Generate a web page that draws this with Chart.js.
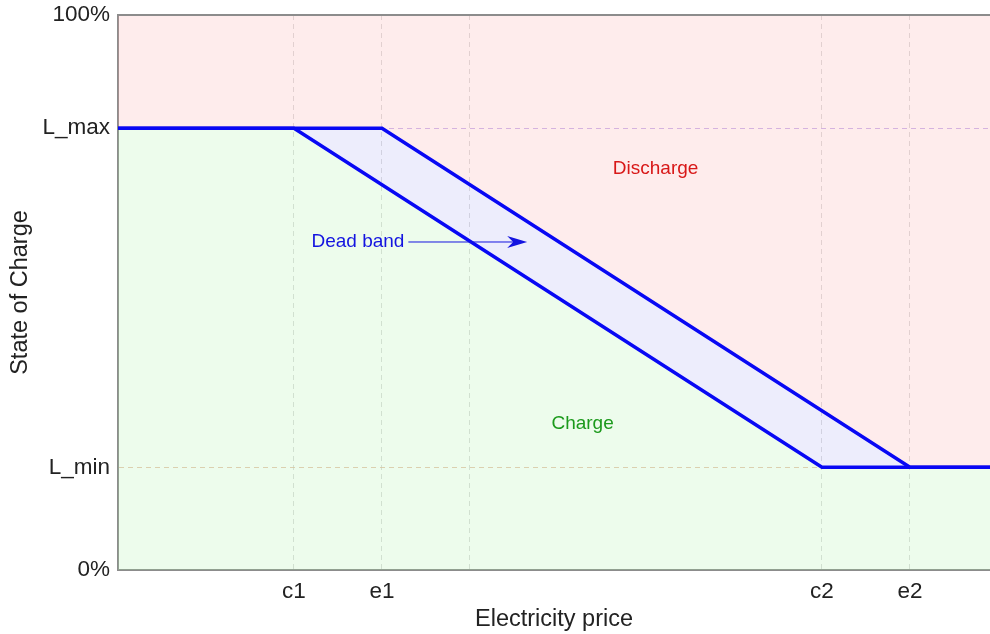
<!DOCTYPE html>
<html>
<head>
<meta charset="utf-8">
<script src="https://cdn.jsdelivr.net/npm/chart.js@4.4.1/dist/chart.umd.min.js"></script>
<style>
    html, body { margin: 0; padding: 0; background: #fff; }
    #wrap { width: 990px; height: 634px; position: relative; }
</style>
</head>
<body>
<div id="wrap"><canvas id="socChart"></canvas></div>
<script>
// Data: price axis in units, SOC in percent
const xTickValues = [2, 3, 4, 8, 9];
const xTickLabels = ['c1', 'e1', '', 'c2', 'e2'];
const yTickValues = [0, 18.5, 79.6, 100];
const yTickLabels = ['0%', 'L_min', 'L_max', '100%'];

const chargeX = [0, 2, 8, 9.91];
const chargeY = [79.6, 79.6, 18.5, 18.5];
const dischargeX = [0, 3, 9, 9.91];
const dischargeY = [79.6, 79.6, 18.5, 18.5];

const FONT = "'Liberation Sans', Arial, sans-serif";
const LINE_BLUE = '#0808f4';

const toPoints = (xs, ys) => xs.map((x, i) => ({ x: x, y: ys[i] }));

// Frame on top + text labels and the dead band arrow
const overlayPlugin = {
    id: 'overlay',
    afterDatasetsDraw(chart) {
        const { ctx, chartArea, scales } = chart;
        const xs = scales.x, ys = scales.y;
        ctx.save();

        // top border
        ctx.strokeStyle = '#8c8c8c';
        ctx.lineWidth = 2;
        ctx.beginPath();
        ctx.moveTo(chartArea.left, chartArea.top);
        ctx.lineTo(chartArea.right, chartArea.top);
        ctx.stroke();

        ctx.textAlign = 'center';
        ctx.textBaseline = 'middle';

        ctx.font = `19px ${FONT}`;
        ctx.fillStyle = '#d81818';
        ctx.fillText('Discharge', xs.getPixelForValue(6.11), ys.getPixelForValue(72.3));

        ctx.fillStyle = '#1c9a1c';
        ctx.fillText('Charge', xs.getPixelForValue(5.28), ys.getPixelForValue(26.3));

        // dead band label + arrow
        const ay = ys.getPixelForValue(59.1);
        ctx.fillStyle = '#1414e0';
        ctx.fillText('Dead band', xs.getPixelForValue(2.727), ay);

        const x0 = xs.getPixelForValue(3.3);
        const x1 = xs.getPixelForValue(4.65);
        ctx.strokeStyle = '#1414e0';
        ctx.lineWidth = 1;
        ctx.beginPath();
        ctx.moveTo(x0, ay);
        ctx.lineTo(x1 - 10, ay);
        ctx.stroke();
        ctx.beginPath();
        ctx.moveTo(x1, ay);
        ctx.lineTo(x1 - 20, ay - 6);
        ctx.lineTo(x1 - 14, ay);
        ctx.lineTo(x1 - 20, ay + 6);
        ctx.closePath();
        ctx.fill();

        ctx.restore();
    }
};

const ctx = document.getElementById('socChart').getContext('2d');
const socChart = new Chart(ctx, {
    type: 'line',
    data: {
        datasets: [
            {
                label: 'Discharge threshold',
                data: toPoints(dischargeX, dischargeY),
                borderColor: LINE_BLUE,
                borderWidth: 3.5,
                backgroundColor: 'rgba(248, 160, 160, 0.2)',
                fill: 'end',
                pointRadius: 0,
                tension: 0
            },
            {
                label: 'Charge threshold',
                data: toPoints(chargeX, chargeY),
                borderColor: LINE_BLUE,
                borderWidth: 3.5,
                backgroundColor: 'rgba(165, 165, 240, 0.2)',
                fill: '-1',
                pointRadius: 0,
                tension: 0
            },
            {
                label: 'Charge region',
                data: toPoints(chargeX, chargeY),
                borderWidth: 0,
                borderColor: 'rgba(0,0,0,0)',
                backgroundColor: 'rgba(165, 240, 160, 0.2)',
                fill: 'start',
                pointRadius: 0,
                tension: 0
            }
        ]
    },
    options: {
        responsive: true,
        maintainAspectRatio: false,
        animation: false,
        layout: { padding: { top: 15, right: 0, left: 0, bottom: 0 } },
        plugins: {
            legend: { display: false },
            tooltip: { enabled: false }
        },
        scales: {
            x: {
                type: 'linear',
                min: 0,
                max: 9.91,
                afterBuildTicks: (scale) => {
                    scale.ticks = xTickValues.map(v => ({ value: v }));
                },
                afterFit: (scale) => {
                    scale.height = 64;
                    scale.paddingRight = 0;
                },
                ticks: {
                    autoSkip: false,
                    maxRotation: 0,
                    padding: 8,
                    color: '#222',
                    font: { family: FONT, size: 22.5 },
                    callback: (v, i) => xTickLabels[i]
                },
                grid: {
                    drawTicks: false,
                    color: 'rgba(200, 200, 200, 0.65)',
                    lineWidth: 1
                },
                border: { color: '#8c8c8c', width: 2, dash: [5, 4] },
                title: {
                    display: true,
                    text: 'Electricity price',
                    color: '#222',
                    font: { family: FONT, size: 23.5 },
                    padding: { top: 0, bottom: 0 }
                }
            },
            y: {
                type: 'linear',
                min: 0,
                max: 100,
                afterBuildTicks: (scale) => {
                    scale.ticks = yTickValues.map(v => ({ value: v }));
                },
                afterFit: (scale) => {
                    scale.width = 118;
                    scale.paddingTop = 0;
                    scale.paddingBottom = 0;
                },
                ticks: {
                    autoSkip: false,
                    padding: 8,
                    color: '#222',
                    font: { family: FONT, size: 22.5 },
                    callback: (v, i) => yTickLabels[i]
                },
                grid: {
                    drawTicks: false,
                    lineWidth: 1,
                    color: (c) => {
                        // only L_min / L_max get a line, the frame covers 0% and 100%
                        if (c.index === 2) return 'rgba(195, 170, 235, 0.85)';
                        if (c.index === 1) return 'rgba(228, 190, 165, 0.85)';
                        return 'rgba(0,0,0,0)';
                    }
                },
                border: { color: '#8c8c8c', width: 2, dash: [5, 4] },
                title: {
                    display: true,
                    text: 'State of Charge',
                    color: '#222',
                    font: { family: FONT, size: 23.5 },
                    padding: { top: 6, bottom: 0 }
                }
            }
        }
    },
    plugins: [overlayPlugin]
});
</script>
</body>
</html>
